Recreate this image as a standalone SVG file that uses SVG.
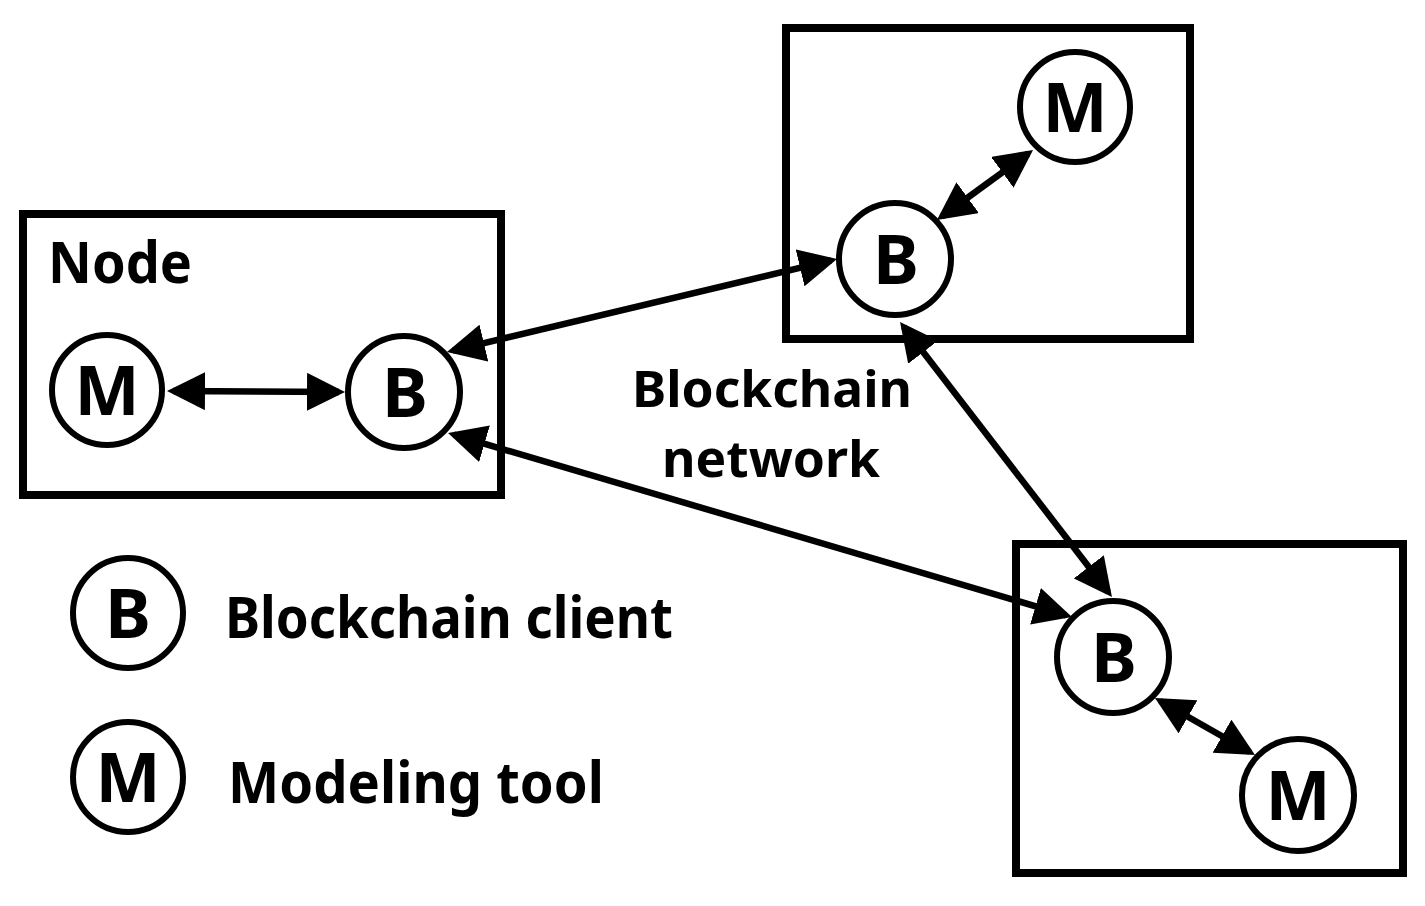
<svg xmlns="http://www.w3.org/2000/svg" width="1425" height="906" viewBox="0 0 1425 906">
<style>
.box{fill:none;stroke:#000;stroke-width:8}
.c{fill:#fff;stroke:#000;stroke-width:6}
.ct{font-family:"Noto Sans","Open Sans",sans-serif;font-weight:bold;font-size:69px;text-anchor:middle;fill:#000}
.t{font-family:"Noto Sans","Open Sans",sans-serif;font-weight:bold;font-size:57px;fill:#000}
.n{font-family:"Noto Sans","Open Sans",sans-serif;font-weight:bold;font-size:50px;fill:#000}
.e{stroke:#000;stroke-width:6.5;fill:none;marker-start:url(#ah);marker-end:url(#ah)}
</style>
<defs>
<marker id="ah" viewBox="0 0 38 38" refX="32" refY="19" markerWidth="38" markerHeight="38" markerUnits="userSpaceOnUse" orient="auto-start-reverse">
<path d="M0,0 L38,19 L0,38 z" fill="#000"/>
</marker>
</defs>
<rect width="1425" height="906" fill="#fff"/>
<g id="node-left">
<rect class="box" x="23" y="214" width="478" height="281"/>
<text class="t" x="48" y="283" textLength="144" lengthAdjust="spacingAndGlyphs">Node</text>
</g>
<g id="node-top">
<rect class="box" x="786" y="28" width="404" height="311"/>
</g>
<g id="node-bottom">
<rect class="box" x="1016" y="544" width="387" height="329"/>
</g>
<g id="connectors">
<line class="e" x1="173" y1="391" x2="339" y2="392"/>
<line class="e" x1="452.8" y1="350.6" x2="831.2" y2="260.4"/>
<line class="e" x1="453.8" y1="434.7" x2="1066.2" y2="615.3"/>
<line class="e" x1="903.7" y1="326.8" x2="1108.3" y2="592.2"/>
<line class="e" x1="941.8" y1="216.5" x2="1028.2" y2="153.5"/>
<line class="e" x1="1160.2" y1="701" x2="1249.8" y2="752"/>
</g>
<g id="m-left"><circle class="c" cx="107" cy="390" r="55"/><text class="ct" x="107" y="415">M</text></g>
<g id="b-left"><circle class="c" cx="404" cy="392" r="56"/><text class="ct" x="405" y="417">B</text></g>
<g id="m-top"><circle class="c" cx="1075" cy="107" r="55"/><text class="ct" x="1075" y="132">M</text></g>
<g id="b-top"><circle class="c" cx="895" cy="259" r="56"/><text class="ct" x="896" y="284">B</text></g>
<g id="b-bottom"><circle class="c" cx="1113" cy="657" r="56"/><text class="ct" x="1114" y="682">B</text></g>
<g id="m-bottom"><circle class="c" cx="1298" cy="795" r="56"/><text class="ct" x="1298" y="820">M</text></g>
<g id="network-label">
<text class="n" x="632" y="407" textLength="280" lengthAdjust="spacingAndGlyphs">Blockchain</text>
<text class="n" x="662" y="477" textLength="218" lengthAdjust="spacingAndGlyphs">network</text>
</g>
<g id="legend">
<circle class="c" cx="128" cy="613" r="55"/><text class="ct" x="128" y="638">B</text>
<text class="t" x="225" y="638" textLength="448" lengthAdjust="spacingAndGlyphs">Blockchain client</text>
<circle class="c" cx="128" cy="777" r="55"/><text class="ct" x="128" y="802">M</text>
<text class="t" x="228" y="803" textLength="376" lengthAdjust="spacingAndGlyphs">Modeling tool</text>
</g>
</svg>
